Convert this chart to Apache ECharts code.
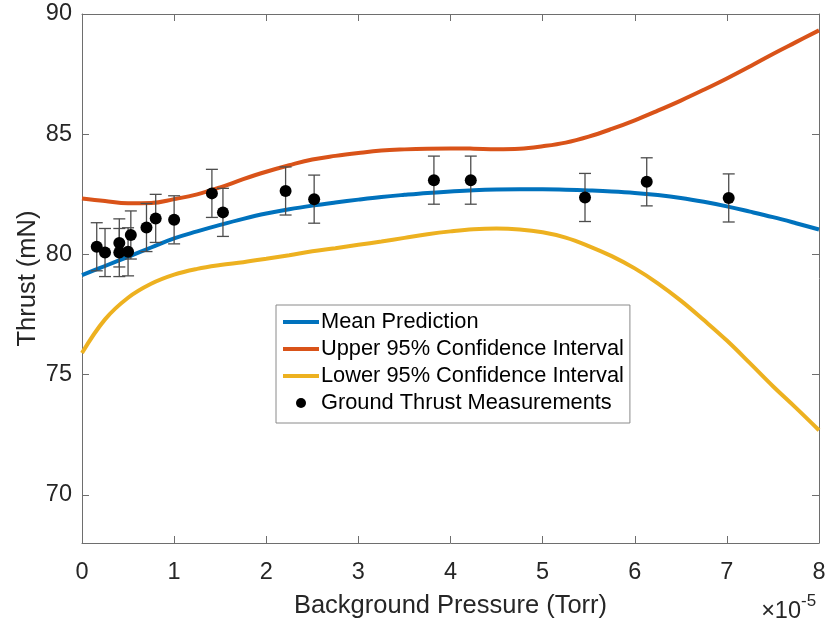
<!DOCTYPE html>
<html>
<head>
<meta charset="utf-8">
<script src="https://cdn.jsdelivr.net/npm/echarts@6/dist/echarts.min.js"></script>
<style>
  html, body { margin: 0; padding: 0; background: #ffffff; }
  #chart { width: 825px; height: 622px; }
</style>
</head>
<body>
<div id="chart"></div>
<script>
// Background pressure is expressed in units of 1e-5 Torr (axis multiplier shown at the lower right).
const curvePressure = [0, 0.25, 0.5, 0.75, 1, 1.25, 1.5, 1.75, 2, 2.25, 2.5, 2.75, 3, 3.25, 3.5, 3.75, 4,
  4.25, 4.5, 4.75, 5, 5.25, 5.5, 5.75, 6, 6.25, 6.5, 6.75, 7, 7.25, 7.5, 7.75, 8];
const meanPrediction = [79.14, 79.52, 79.90, 80.29, 80.67, 80.96, 81.23, 81.48, 81.70, 81.88, 82.03, 82.16, 82.28,
  82.39, 82.48, 82.56, 82.62, 82.67, 82.70, 82.71, 82.71, 82.69, 82.66, 82.62, 82.56, 82.47, 82.35, 82.19,
  82.00, 81.78, 81.55, 81.30, 81.04];
const upperCI = [82.33, 82.22, 82.13, 82.14, 82.30, 82.50, 82.79, 83.13, 83.44, 83.71, 83.95, 84.10, 84.22,
  84.32, 84.37, 84.40, 84.41, 84.40, 84.38, 84.40, 84.50, 84.65, 84.90, 85.22, 85.58, 85.98, 86.40, 86.85,
  87.32, 87.82, 88.34, 88.83, 89.32];
const lowerCI = [75.90, 77.30, 78.20, 78.78, 79.16, 79.40, 79.56, 79.68, 79.82, 79.97, 80.13, 80.26, 80.40,
  80.54, 80.69, 80.84, 80.96, 81.05, 81.08, 81.04, 80.92, 80.70, 80.35, 79.93, 79.42, 78.80, 78.08, 77.27,
  76.42, 75.48, 74.52, 73.62, 72.69];

const measPressure = [0.16, 0.25, 0.405, 0.405, 0.50, 0.53, 0.70, 0.80, 1.00, 1.41, 1.53, 2.21, 2.52, 3.82, 4.22, 5.46, 6.13, 7.02];
const measThrust = [80.32, 80.08, 80.48, 80.08, 80.11, 80.81, 81.12, 81.50, 81.44, 82.54, 81.75, 82.64, 82.30, 83.09, 83.09, 82.37, 83.02, 82.35];
const measError = [1.0, 1.0, 1.0, 1.0, 1.0, 1.0, 1.0, 1.0, 1.0, 1.0, 1.0, 1.0, 1.0, 1.0, 1.0, 1.0, 1.0, 1.0];

const xTicks = [0, 1, 2, 3, 4, 5, 6, 7, 8];
const yTicks = [70, 75, 80, 85, 90];

const seriesNames = ['Mean Prediction', 'Upper 95% Confidence Interval', 'Lower 95% Confidence Interval', 'Ground Thrust Measurements'];
const colors = { mean: '#0072BD', upper: '#D95319', lower: '#EDB120', point: '#000000' };

const TEXT = '#262626';
const AXIS = '#6e6e6e';
const FONT = '"Liberation Sans", Arial, sans-serif';

const pairs = (xs, ys) => xs.map((x, i) => [x, ys[i]]);

const chart = echarts.init(document.getElementById('chart'), null, { renderer: 'canvas' });

const baseX = {
  type: 'value', min: 0, max: 8, interval: 1,
  splitLine: { show: false },
  axisLine: { show: true, onZero: false, lineStyle: { color: AXIS, width: 1 } },
  axisTick: { show: true, inside: true, length: 7, customValues: xTicks, lineStyle: { color: AXIS } }
};
const baseY = {
  type: 'value', min: 68, max: 90,
  splitLine: { show: false },
  axisLine: { show: true, onZero: false, lineStyle: { color: AXIS, width: 1 } },
  axisTick: { show: true, inside: true, length: 7, customValues: yTicks, lineStyle: { color: AXIS } }
};

const lineLegendItem = (name) => ({
  name: name,
  itemStyle: { opacity: 0 },
  lineStyle: { width: 4 }
});

const option = {
  backgroundColor: '#ffffff',
  animation: false,
  textStyle: { fontFamily: FONT },
  grid: { left: 82, right: 6, top: 14, bottom: 79, containLabel: false, outerBoundsMode: 'none' },
  xAxis: [
    Object.assign({}, baseX, {
      position: 'bottom',
      name: 'Background Pressure (Torr)',
      nameLocation: 'middle',
      nameGap: 50,
      nameMoveOverlap: false,
      nameTextStyle: { color: TEXT, fontSize: 25.5, fontFamily: FONT },
      axisLabel: { color: TEXT, fontSize: 23.5, margin: 18, fontFamily: FONT, customValues: xTicks }
    }),
    Object.assign({}, baseX, { position: 'top', axisLabel: { show: false } })
  ],
  yAxis: [
    Object.assign({}, baseY, {
      position: 'left',
      name: 'Thrust (mN)',
      nameLocation: 'middle',
      nameGap: 41,
      nameMoveOverlap: false,
      nameTextStyle: { color: TEXT, fontSize: 25.5, fontFamily: FONT },
      axisLabel: { color: TEXT, fontSize: 23.5, margin: 10, fontFamily: FONT, customValues: yTicks }
    }),
    Object.assign({}, baseY, { position: 'right', axisLabel: { show: false } })
  ],
  legend: {
    orient: 'vertical',
    left: 276,
    top: 305,
    padding: [6, 6, 9, 5],
    itemGap: 5,
    itemWidth: 36,
    itemHeight: 10,
    backgroundColor: '#ffffff',
    borderColor: '#8a8a8a',
    borderWidth: 1,
    borderRadius: 0,
    textStyle: { color: '#000000', fontSize: 21.8, lineHeight: 22, fontFamily: FONT, padding: [0, 0, 0, -3] },
    data: [
      lineLegendItem(seriesNames[0]),
      lineLegendItem(seriesNames[1]),
      lineLegendItem(seriesNames[2]),
      { name: seriesNames[3] }
    ]
  },
  graphic: [
    {
      type: 'text', right: 825 - 801, top: 600, z: 10,
      style: { text: '×10', fill: TEXT, font: '23.5px ' + FONT }
    },
    {
      type: 'text', left: 801, top: 593, z: 10,
      style: { text: '-5', fill: TEXT, font: '17px ' + FONT }
    }
  ],
  series: [
    {
      name: seriesNames[0], type: 'line', smooth: 0.4, symbol: 'none', z: 2,
      data: pairs(curvePressure, meanPrediction),
      lineStyle: { color: colors.mean, width: 4 }, itemStyle: { color: colors.mean }
    },
    {
      name: seriesNames[1], type: 'line', smooth: 0.4, symbol: 'none', z: 2,
      data: pairs(curvePressure, upperCI),
      lineStyle: { color: colors.upper, width: 4 }, itemStyle: { color: colors.upper }
    },
    {
      name: seriesNames[2], type: 'line', smooth: 0.4, symbol: 'none', z: 2,
      data: pairs(curvePressure, lowerCI),
      lineStyle: { color: colors.lower, width: 4 }, itemStyle: { color: colors.lower }
    },
    {
      name: 'error', type: 'custom', z: 3,
      data: measPressure.map((p, i) => [p, measThrust[i] - measError[i], measThrust[i] + measError[i]]),
      encode: { x: 0, y: [1, 2] },
      renderItem: (params, api) => {
        const x = api.value(0);
        const lo = api.coord([x, api.value(1)]);
        const hi = api.coord([x, api.value(2)]);
        const hw = 6;
        const st = { stroke: '#4d4d4d', lineWidth: 1.3 };
        return {
          type: 'group',
          children: [
            { type: 'line', shape: { x1: lo[0], y1: lo[1], x2: hi[0], y2: hi[1] }, style: st },
            { type: 'line', shape: { x1: lo[0] - hw, y1: lo[1], x2: lo[0] + hw, y2: lo[1] }, style: st },
            { type: 'line', shape: { x1: hi[0] - hw, y1: hi[1], x2: hi[0] + hw, y2: hi[1] }, style: st }
          ]
        };
      }
    },
    {
      name: seriesNames[3], type: 'scatter', z: 4,
      symbol: 'circle', symbolSize: 12,
      data: pairs(measPressure, measThrust),
      itemStyle: { color: colors.point, opacity: 1 }
    }
  ]
};

chart.setOption(option);
</script>
</body>
</html>
